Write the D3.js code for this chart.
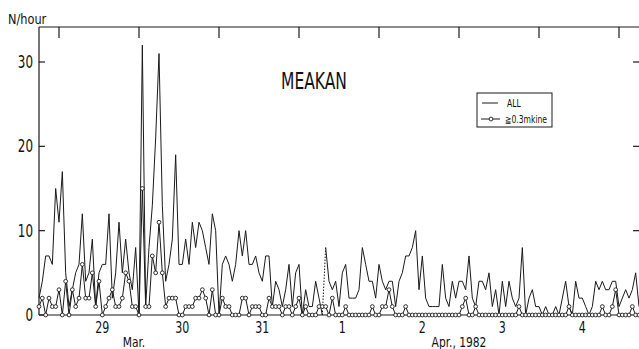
<!DOCTYPE html>
<html><head><meta charset="utf-8">
<script src="https://cdn.jsdelivr.net/npm/d3@7/dist/d3.min.js"></script>
<style>
body{margin:0;background:#fff}
text{font-family:"DejaVu Sans Condensed","DejaVu Sans",sans-serif;font-stretch:condensed;fill:#111}
</style>
</head><body><svg id="c" width="639" height="349"></svg>
<script>
// hourly counts starting Mar 28, 18:00 (hour 0) to Apr 5, 06:00 (hour 180)
const allCounts = [
 2,4,7,7,6,15,11,17,5,1,
 3,5,6,12,4,5,9,1,5,6,
 6,12,2,5,11,5,9,5,3,8,
 0,32,1,8,13,21,31,13,4,6,
 9,19,6,6,9,6,11,8,11,10,
 8,6,12,10,0,6,7,6,4,6,
 10,7,10,6,6,7,5,4,7,7,
 1,4,3,1,3,6,1,5,6,0,
 3,1,1,4,2,0,8,4,3,4,
 1,5,6,2,2,2,3,8,6,4,
 4,2,6,4,3,4,4,1,4,5,
 7,7,8,10,3,7,2,1,1,1,
 1,6,2,1,4,2,4,4,3,7,
 2,1,4,4,3,5,1,3,0,4,
 1,4,2,1,2,8,0,2,3,1,
 1,0,1,0,0,1,0,2,4,1,
 0,4,2,2,1,0,1,4,3,4,
 3,3,4,4,1,2,3,2,3,5,
 1
];
const strongCounts = [
 1,2,0,2,1,1,3,0,4,0,
 3,1,2,6,2,2,5,1,4,0,
 1,2,3,1,1,2,5,4,1,1,
 0,15,1,1,7,5,11,5,1,2,
 2,2,0,0,1,1,1,2,2,3,
 2,0,3,0,0,2,1,1,0,0,
 0,2,2,0,1,1,1,0,0,2,
 1,1,1,0,1,1,0,1,2,0,
 1,0,0,0,1,1,1,0,2,0,
 0,0,1,0,0,0,0,0,0,0,
 1,0,0,1,1,3,1,0,0,0,
 1,0,0,0,0,0,0,0,0,0,
 0,0,0,0,0,0,0,1,2,0,
 0,1,0,0,0,0,0,0,0,0,
 0,0,0,0,1,0,0,0,0,0,
 0,0,0,0,0,0,0,0,0,1,
 0,0,0,0,0,0,0,0,0,1,
 0,0,1,3,0,0,0,0,1,0,
 0
];
const gapHour = 85; // segment 85->86 drawn dotted in the original
const dayTickHours = [6,30,54,78,102,126,150,174];
const dayLabels = ["29","30","31","1","2","3","4"];
const monthLabels = ["Mar.","Apr., 1982"];
const yTicks = [0,10,20,30];
const seriesNames = ["ALL","≧0.3mkine"];
const title = "MEAKAN";
const yTitle = "N/hour";

const svg = d3.select("#c");
const x = d3.scaleLinear().domain([0,180]).range([39,639]);
const y = d3.scaleLinear().domain([0,30]).range([315,62]);
const yTop = 27;
const ink = "#1a1a1a";

function txt(px, py, str, size, anchor, sx, weight){
  return svg.append("text")
    .attr("transform",`translate(${px},${py}) scale(${sx},1)`)
    .attr("text-anchor",anchor).attr("font-size",size)
    .attr("font-weight",weight||400).text(str);
}

// frame
svg.append("line").attr("x1",39).attr("x2",39).attr("y1",yTop).attr("y2",y(0)).attr("stroke",ink).attr("stroke-width",1.2);
svg.append("line").attr("x1",39).attr("x2",639).attr("y1",yTop).attr("y2",yTop).attr("stroke",ink).attr("stroke-width",1.2);
svg.append("line").attr("x1",39).attr("x2",639).attr("y1",y(0)).attr("y2",y(0)).attr("stroke",ink).attr("stroke-width",1.2);

// top day ticks
svg.selectAll(".dt").data(dayTickHours).enter().append("line")
  .attr("x1",d=>x(d)).attr("x2",d=>x(d)).attr("y1",yTop).attr("y2",yTop+11)
  .attr("stroke",ink).attr("stroke-width",1.2);

// y ticks left and right
svg.selectAll(".yt").data(yTicks).enter().append("line")
  .attr("x1",39).attr("x2",45).attr("y1",d=>y(d)).attr("y2",d=>y(d)).attr("stroke",ink).attr("stroke-width",1.2);
svg.selectAll(".yr").data(yTicks.filter(d=>d>0)).enter().append("line")
  .attr("x1",633).attr("x2",639).attr("y1",d=>y(d)).attr("y2",d=>y(d)).attr("stroke",ink).attr("stroke-width",1.2);
yTicks.forEach(d=>txt(33, y(d)+6, d, 17, "end", 0.78));

txt(8, 24, yTitle, 14, "start", 0.9);

// day labels
dayLabels.forEach((d,i)=>txt(x(dayTickHours[i]+13), 333, d, 15, "middle", 0.82));
txt(x(28.5), 347, monthLabels[0], 14, "middle", 0.85);
txt(x(126), 347, monthLabels[1], 14, "middle", 0.85);

// title
txt(314, 89, title, 23, "middle", 0.75, 300);

// lines
const line = d3.line().x(d=>x(d[0])).y(d=>y(d[1]));
const allPts = allCounts.map((v,i)=>[i,v]);
svg.append("path").attr("d",line(allPts.slice(0,gapHour+1))).attr("fill","none").attr("stroke",ink).attr("stroke-width",1);
svg.append("path").attr("d",line(allPts.slice(gapHour,gapHour+2))).attr("fill","none").attr("stroke",ink).attr("stroke-width",1).attr("stroke-dasharray","1.5,1.5");
svg.append("path").attr("d",line(allPts.slice(gapHour+1))).attr("fill","none").attr("stroke",ink).attr("stroke-width",1);
svg.append("path").attr("d",line(strongCounts.map((v,i)=>[i,v]))).attr("fill","none").attr("stroke",ink).attr("stroke-width",1);
svg.selectAll(".pt").data(strongCounts).enter().append("circle")
  .attr("cx",(d,i)=>x(i)).attr("cy",d=>y(d)).attr("r",1.9)
  .attr("fill","#fff").attr("stroke",ink).attr("stroke-width",0.9);

// legend
svg.append("rect").attr("x",477).attr("y",93).attr("width",75).attr("height",34).attr("fill","#fff").attr("stroke",ink).attr("stroke-width",1);
svg.append("line").attr("x1",482).attr("x2",498).attr("y1",103).attr("y2",103).attr("stroke",ink);
txt(507, 107, seriesNames[0], 10, "start", 0.85);
svg.append("line").attr("x1",481).attr("x2",500).attr("y1",119).attr("y2",119).attr("stroke",ink);
svg.append("circle").attr("cx",491).attr("cy",119).attr("r",1.9).attr("fill","#fff").attr("stroke",ink).attr("stroke-width",0.9);
txt(505, 123, seriesNames[1], 10, "start", 0.85);
</script></body></html>
